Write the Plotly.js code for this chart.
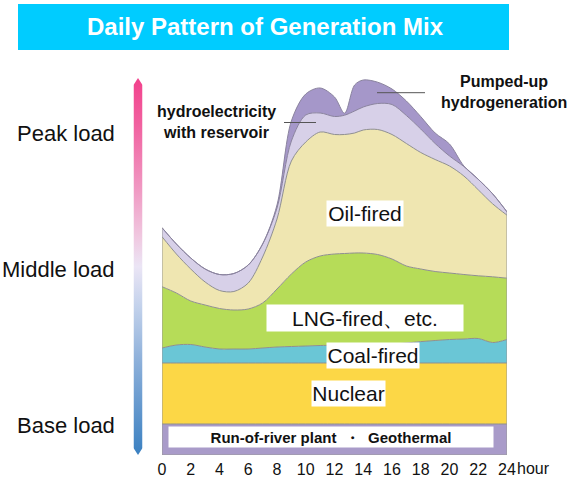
<!DOCTYPE html>
<html>
<head>
<meta charset="utf-8">
<script src="https://cdn.plot.ly/plotly-3.0.1.min.js"></script>
<style>html,body{margin:0;padding:0;background:#fff;}#chart{width:577px;height:479px;}</style>
</head>
<body>
<div id="chart"></div>
<script>
// ---- data (hour of day; layer thickness in arbitrary load units) ----
const hours = [0,1,2,3,4,5,6,7,8,9,10,11,12,12.7,13.4,14,15,16,17,18,19,20,21,22,23,24];
const runOfRiver = [31,31,31,31,31,31,31,31,31,31,31,31,31,31,31,31,31,31,31,31,31,31,31,31,31,31];
const nuclear    = [61,61,61,61,61,61,61,61,61,61,61,61,61,61,61,61,61,61,61,61,61,61,61,61,61,61];
const coal       = [15,18,18.5,16,14,14,14,15,16,16.5,17,17.5,17.8,18,18.2,18.3,18.5,18.8,20,21.4,22.5,23.5,24,24.5,20.5,23.5];
const lng        = [61.3,52,43.5,42,40.5,39,40,45,58,72.5,84,89.5,91.2,91.5,91.8,91.7,90,85.2,77,72.6,69,66.5,64.5,62.7,65.7,61.3];
const oil        = [50,39,32,23,18,18.5,26,46,70,113,120,124,119.5,119,120,123,125,124.5,122.5,116.5,112,107,98.5,86,73,63];
const reservoir  = [9,10,11,13,16,18,18,13,11,20,27,19,18,19.3,22,23,26,30,28,23.5,16,10,9.5,10.5,10,3.3];
const pumped     = [0,0,0,0,0,0,0,0,3,20,21,25,19.5,2,26,27,21.3,15.5,14.5,12.4,10.5,12,0.5,0,0,0];
const tickHours  = [0,2,4,6,8,10,12,14,16,18,20,22,24];
const layerNames = ['Run-of-river plant・Geothermal','Nuclear','Coal-fired','LNG-fired、etc.','Oil-fired','hydroelectricity with reservoir','Pumped-up hydrogeneration'];
const layerValues = [runOfRiver, nuclear, coal, lng, oil, reservoir, pumped];
const layerColors = ['#a99bc9','#fcd746','#6ac6d6','#b6dc58','#efe6b1','#d7d0e8','#a597c9'];

// ---- geometry helpers ----
const FW = 577, FH = 479;
const M = {l:162, r:70, t:55, b:24};
const PW = FW - M.l - M.r, PH = FH - M.t - M.b;
const px = x => (x - M.l) / PW;
const py = y => (FH - M.b - y) / PH;
const FONT = 'Liberation Sans, Arial, Helvetica, sans-serif';

const traces = layerValues.map((vals, i) => ({
  type: 'scatter', mode: 'lines', x: hours, y: vals, name: layerNames[i],
  stackgroup: 'mix', fillcolor: layerColors[i],
  line: {color: i >= 5 ? '#8a839e' : '#8f8f8f', width: 1, shape: 'spline', smoothing: 0.9},
  hoverinfo: 'skip', showlegend: false
}));

const totalAt = idx => layerValues.reduce((s, v) => s + v[idx], 0);
const last = hours.length - 1;

const stops = [[0,'#f2418c'],[0.12,'#f1609f'],[0.3,'#f09bc4'],[0.42,'#f0c8e0'],[0.5,'#ebe5f5'],[0.6,'#c5d3ec'],[0.75,'#8db0da'],[1,'#3a80c1']];
const svg = "<svg xmlns='http://www.w3.org/2000/svg' width='9' height='377' viewBox='0 0 9 377'><defs><linearGradient id='g' x1='0' y1='0' x2='0' y2='1'>" +
  stops.map(s => "<stop offset='" + s[0] + "' stop-color='" + s[1] + "'/>").join('') +
  "</linearGradient></defs><polygon points='4.5,0 9,7 9,370 4.5,377 0,370 0,7' fill='url(#g)'/></svg>";

const boxAnn = (text, cx, cy, w, h, size, bold) => ({
  xref: 'paper', yref: 'paper', x: px(cx), y: py(cy), xanchor: 'center', yanchor: 'middle',
  text: text, showarrow: false, bgcolor: '#ffffff', width: w, height: h, borderpad: 0,
  font: {family: FONT, size: size, color: '#111', weight: bold ? 'bold' : 'normal'}
});
const txtAnn = (text, x, y, anchor, size, bold) => ({
  xref: 'paper', yref: 'paper', x: px(x), y: py(y), xanchor: anchor, yanchor: 'middle',
  text: text, showarrow: false, align: 'center',
  font: {family: FONT, size: size, color: '#111', weight: bold ? 'bold' : 'normal'}
});

const layout = {
  width: FW, height: FH, margin: M,
  paper_bgcolor: '#fff', plot_bgcolor: '#fff',
  title: {text: 'Daily Pattern of Generation Mix', xref: 'container', yref: 'container',
          x: 265/FW, xanchor: 'center', y: 1 - 27/FH, yanchor: 'middle',
          font: {family: FONT, size: 24, color: '#ffffff', weight: 'bold'}},
  xaxis: {range: [0, 24], tickvals: tickHours, ticks: '', showgrid: false, zeroline: false, showline: false,
          tickfont: {family: FONT, size: 16, color: '#111'}, ticklabelstandoff: 3, fixedrange: true},
  yaxis: {range: [0, PH], visible: false, fixedrange: true},
  shapes: [
    {type: 'rect', xref: 'paper', yref: 'paper', x0: px(18), x1: px(509), y0: py(50), y1: py(4),
     fillcolor: '#00ccff', line: {width: 0}, layer: 'below'},
    {type: 'line', xref: 'x', yref: 'y', x0: 0, x1: 0, y0: 0, y1: totalAt(0), line: {color: '#9a9a9a', width: 1}},
    {type: 'line', xref: 'x', yref: 'y', x0: 24, x1: 24, y0: 0, y1: totalAt(last), line: {color: '#9a9a9a', width: 1}},
    {type: 'line', xref: 'x', yref: 'y', x0: 0, x1: 24, y0: 0, y1: 0, line: {color: '#9a9a9a', width: 1}},
    {type: 'line', xref: 'paper', yref: 'paper', x0: px(284), x1: px(316), y0: py(122.5), y1: py(122.5), line: {color: '#555', width: 1}},
    {type: 'line', xref: 'paper', yref: 'paper', x0: px(377), x1: px(425), y0: py(92.7), y1: py(92.7), line: {color: '#555', width: 1}}
  ],
  images: [{
    source: 'data:image/svg+xml;charset=utf-8,' + encodeURIComponent(svg),
    xref: 'paper', yref: 'paper', x: px(133.5), y: py(78), sizex: 9/PW, sizey: 377/PH,
    xanchor: 'left', yanchor: 'top', sizing: 'stretch', layer: 'above'
  }],
  annotations: [
    boxAnn('Oil-fired', 365, 213, 76, 25, 21, false),
    boxAnn('LNG-fired、etc.', 364.7, 318, 196, 26, 21, false),
    boxAnn('Coal-fired', 373, 355, 92, 25, 21, false),
    boxAnn('Nuclear', 348.3, 393, 73, 25, 21, false),
    boxAnn('Run-of-river plant  ・  Geothermal', 331.3, 437.3, 324, 20, 15, true),
    txtAnn('hydroelectricity<br>with reservoir', 216.5, 122, 'center', 16, true),
    txtAnn('Pumped-up<br>hydrogeneration', 504, 92, 'center', 16, true),
    txtAnn('Peak load', 117, 133, 'right', 22, false),
    txtAnn('Middle load', 117, 269, 'right', 22, false),
    txtAnn('Base load', 117, 425, 'right', 22, false),
    txtAnn('hour', 515, 469, 'left', 16, false)
  ]
};

Plotly.newPlot('chart', traces, layout, {staticPlot: true, displayModeBar: false});
</script>
</body>
</html>
